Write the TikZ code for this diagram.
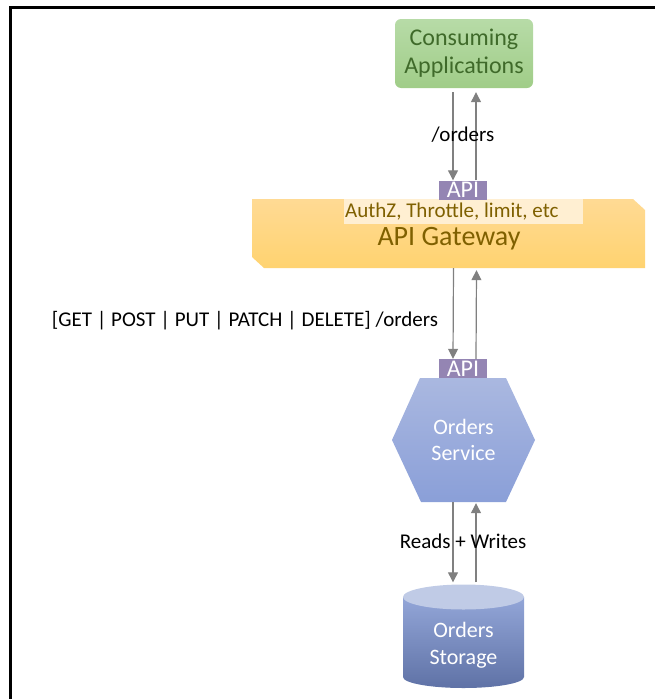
\documentclass[tikz,border=0pt]{standalone}
\usepackage{fontspec}
\setmainfont{Carlito}
\usetikzlibrary{arrows.meta}
\definecolor{arrgray}{HTML}{808080}
\definecolor{gwtop}{HTML}{FFDA94}
\definecolor{gwbot}{HTML}{FFD370}
\definecolor{gwtext}{HTML}{7F6000}
\definecolor{authfill}{HTML}{FFEFD2}
\definecolor{apifill}{HTML}{9485B3}
\definecolor{greentop}{HTML}{B7DBA7}
\definecolor{greenbot}{HTML}{A0CD88}
\definecolor{greentext}{HTML}{3F6A2A}
\definecolor{hextop}{HTML}{AAB8E0}
\definecolor{hexbot}{HTML}{8A9FD8}
\definecolor{cyltop}{HTML}{C0CBE6}
\definecolor{cylbodytop}{HTML}{93A6D8}
\definecolor{cylbodybot}{HTML}{5F72A6}
\tikzset{
  arr/.style={draw=arrgray, line width=1.2pt, -{Triangle[length=10pt,width=10pt]}, arrgray},
  apitag/.style={fill=apifill, text=white, font=\fontsize{24}{24}\selectfont, minimum width=48pt, minimum height=19pt, inner sep=0pt, text height=15pt, text depth=0pt},
  lbl/.style={font=\fontsize{21}{24}\selectfont, inner sep=1pt},
}
\begin{document}
\begin{tikzpicture}[x=1pt,y=-1pt]
\useasboundingbox (0,0) rectangle (655,699);
% frame
\draw[line width=3pt] (10.5,699) -- (10.5,7) -- (655,7);
% consuming applications
\node[shade, top color=greentop, bottom color=greenbot, rounded corners=6pt, minimum width=138pt, minimum height=69pt, text=greentext, align=center, font=\fontsize{24}{28}\selectfont] (cons) at (464,53.5) {Consuming\\Applications};
% gateway
\shade[top color=gwtop, bottom color=gwbot] (252,199) -- (633,199) -- (645,210) -- (645,268) -- (264,268) -- (252,257) -- cycle;
\node[minimum width=393pt, minimum height=69pt, inner sep=0pt] (gw) at (448.5,233.5) {};
\node[fill=authfill, minimum width=239pt, minimum height=25pt, inner sep=0pt, text=gwtext, font=\fontsize{21}{22}\selectfont] (auth) at (463.5,211.5) {};
\node[text=gwtext, font=\fontsize{21}{22}\selectfont, inner sep=0pt, anchor=west] (authlbl) at (345,212) {AuthZ, Throttle, limit, etc};
\node[text=gwtext, font=\fontsize{28}{30}\selectfont, inner sep=0pt] (gwlabel) at (449,238.5) {API Gateway};
\node[apitag] (api1) at (463,190) {API};
% orders service hexagon
\shade[top color=hextop, bottom color=hexbot] (420,378) -- (506,378) -- (535,440) -- (506,502) -- (421,502) -- (392,440) -- cycle;
\node[minimum width=143pt, minimum height=124pt, inner sep=0pt, text=white, align=center, font=\fontsize{22}{26}\selectfont] (hex) at (463.5,440) {Orders\\Service};
\node[apitag] (api2) at (463,368.5) {API};
% storage cylinder
\shade[top color=cylbodytop, bottom color=cylbodybot] (403,597) -- (403,677) arc[start angle=180, end angle=360, x radius=60.5pt, y radius=11pt] -- (524,597) -- cycle;
\fill[cyltop] (463.5,597) ellipse[x radius=60.5pt, y radius=12.5pt];
\node[minimum width=121pt, minimum height=103pt, inner sep=0pt] (store) at (463.5,641) {};
\node[text=white, align=center, font=\fontsize{22}{27}\selectfont] (storelbl) at (463.5,645) {Orders\\Storage};
% connectors
\draw[arr] ([xshift=-11pt,yshift=-4pt]cons.south) -- ([xshift=-10pt]api1.north);
\draw[arr] ([xshift=13pt]api1.north) -- ([xshift=12pt,yshift=-4pt]cons.south);
\draw[arr] ([xshift=5pt]gw.south) -- ([xshift=-10pt]api2.north);
\draw[arr] ([xshift=13pt]api2.north) -- ([xshift=28pt,yshift=-2pt]gw.south);
\draw[arr] ([xshift=-10.5pt]hex.south) -- ([xshift=-10.5pt,yshift=7pt]store.north);
\draw[arr] ([xshift=12.5pt,yshift=7pt]store.north) -- ([xshift=12.5pt,yshift=-1pt]hex.south);
% labels
\node[lbl] (l1) at (463,135) {/orders};
\node[lbl] (l2) at (245,321) {[GET | POST | PUT | PATCH | DELETE] /orders};
\node[lbl] (l3) at (463,541) {Reads + Writes};
\end{tikzpicture}
\end{document}
